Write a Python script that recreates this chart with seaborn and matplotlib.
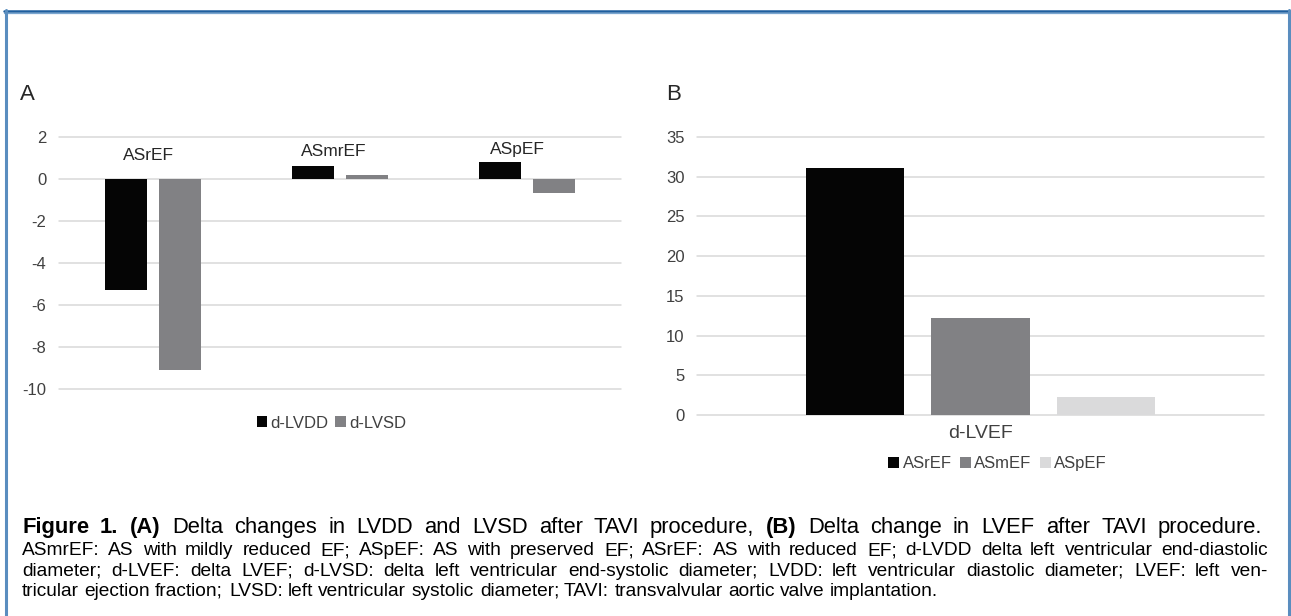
import numpy as np
import pandas as pd
import matplotlib
matplotlib.use("Agg")
import matplotlib.pyplot as plt
import seaborn as sns
from matplotlib import font_manager as fm
from matplotlib.lines import Line2D

# ---------------- data ----------------
groups_a = ["ASrEF", "ASmrEF", "ASpEF"]
series_a = ["d-LVDD", "d-LVSD"]
d_lvdd = [-5.3, 0.62, 0.83]
d_lvsd = [-9.1, 0.2, -0.67]
yticks_a = [2, 0, -2, -4, -6, -8, -10]

metric_b = ["d-LVEF"]
groups_b = ["ASrEF", "ASmEF", "ASpEF"]
d_lvef = [31.1, 12.2, 2.3]
yticks_b = [0, 5, 10, 15, 20, 25, 30, 35]

caption_title = [("Figure 1. (A)", "bold"),
                 ("Delta changes in LVDD and LVSD after TAVI procedure,", "normal"),
                 ("(B)", "bold"),
                 ("Delta change in LVEF after TAVI procedure.", "normal")]
caption_lines = [
    "ASmrEF: AS with mildly reduced EF; ASpEF: AS with preserved EF;  ASrEF: AS with reduced EF; d-LVDD delta left ventricular end-diastolic",
    "diameter; d-LVEF: delta LVEF; d-LVSD: delta left ventricular end-systolic diameter; LVDD: left ventricular diastolic diameter; LVEF: left ven-",
    "tricular ejection fraction; LVSD: left ventricular systolic diameter; TAVI: transvalvular aortic valve implantation.",
]

BLACK = "#050505"
GREY = "#808184"
LIGHT = "#dadadb"
GRID = "#d9d9d9"
TICK = "#404040"

sns.set_theme(style="white")
names = {f.name for f in fm.fontManager.ttflist}
BASE = "Liberation Sans" if "Liberation Sans" in names else "DejaVu Sans"
plt.rcParams["font.family"] = [BASE, "DejaVu Sans"]

W, H = 1291, 616
fig = plt.figure(figsize=(W / 100, H / 100), dpi=100)
fig.patch.set_facecolor("white")


def px_axes(x0, x1, ytop, ybot):
    return fig.add_axes([x0 / W, 1 - ybot / H, (x1 - x0) / W, (ybot - ytop) / H])


axA = px_axes(59, 621, 137, 389)
axB = px_axes(697, 1264, 137, 415)

# ---------------- panel A ----------------
df_a = pd.DataFrame({
    "group": groups_a * 2,
    "series": [s for s in series_a for _ in groups_a],
    "value": d_lvdd + d_lvsd,
})
sns.barplot(data=df_a, x="group", y="value", hue="series", order=groups_a,
            hue_order=series_a, palette=[BLACK, GREY], width=0.576, gap=0.222,
            linewidth=0, errorbar=None, ax=axA)
axA.set_ylim(-10, 2)
axA.set_yticks(yticks_a)
axA.set_yticklabels([str(v) for v in yticks_a])
axA.tick_params(axis="x", labelbottom=False, length=0)
label_heights = [1.1, 1.33, 1.42]
label_shift = [-0.025, -0.033, -0.052]
for i, g in enumerate(groups_a):
    axA.text(i + label_shift[i], label_heights[i], g, ha="center", va="center",
             fontsize=12.5, color="#262626")
sns.move_legend(axA, "center", bbox_to_anchor=(0.485, -0.135), ncol=2, title=None,
                frameon=False, fontsize=12, handlelength=0.65, handleheight=0.65,
                handletextpad=0.2, columnspacing=0.4, labelcolor=TICK)

# ---------------- panel B ----------------
df_b = pd.DataFrame({
    "metric": metric_b * len(groups_b),
    "group": groups_b,
    "value": d_lvef,
})
sns.barplot(data=df_b, x="metric", y="value", hue="group", hue_order=groups_b,
            palette=[BLACK, GREY, LIGHT], width=0.664, gap=0.217,
            linewidth=0, errorbar=None, ax=axB)
axB.set_ylim(0, 35)
axB.set_yticks(yticks_b)
axB.tick_params(axis="x", labelsize=14, length=0, pad=7, labelcolor=TICK)
sns.move_legend(axB, "center", bbox_to_anchor=(0.53, -0.175), ncol=3, title=None,
                frameon=False, fontsize=12, handlelength=0.65, handleheight=0.65,
                handletextpad=0.2, columnspacing=0.5, labelcolor=TICK)

for ax in (axA, axB):
    ax.set_xlabel("")
    ax.set_ylabel("")
    ax.grid(axis="y", color=GRID, linewidth=1.1)
    ax.set_axisbelow(True)
    for sp in ax.spines.values():
        sp.set_visible(False)
    ax.tick_params(axis="y", length=0, pad=9, labelsize=12, labelcolor=TICK)
    for gl in ax.get_ygridlines():
        gl.set_clip_on(False)

fig.text(20 / W, 1 - 94 / H, "A", fontsize=16, va="center", ha="left", color="#262626")
fig.text(666 / W, 1 - 94 / H, "B", fontsize=16, va="center", ha="left", color="#262626")

# ---------------- frame ----------------
fig.add_artist(Line2D([4 / W, 1289 / W], [1 - 10.5 / H, 1 - 10.5 / H], transform=fig.transFigure,
                      color="#1f5f9f", linewidth=1.8))
fig.add_artist(Line2D([4 / W, 1289 / W], [1 - 12.5 / H, 1 - 12.5 / H], transform=fig.transFigure,
                      color="#7aa6d0", linewidth=0.9))
for xx in (5.5, 1288.5):
    fig.add_artist(Line2D([xx / W, xx / W], [1 - 10 / H, 0], transform=fig.transFigure,
                          color="#5a8dbf", linewidth=2.2))

# ---------------- caption ----------------
fig.canvas.draw()
R = fig.canvas.get_renderer()


def tw(s, size, weight="normal"):
    t = fig.text(0, 0, s, fontsize=size, fontweight=weight, family=BASE)
    w = t.get_window_extent(renderer=R).width
    t.remove()
    return w


def tokens_of(runs):
    out = []
    for s, wgt in runs:
        for word in s.split():
            out.append((word, wgt))
    return out


def place(tokens, x0, y, size, justify=None):
    ws = [tw(w, size, g) for w, g in tokens]
    sp = tw("a a", size) - tw("aa", size)
    if justify is not None and len(tokens) > 1:
        sp = (justify - sum(ws)) / (len(tokens) - 1)
    x = x0
    for (w, g), ww in zip(tokens, ws):
        fig.text(round(x) / W, 1 - y / H, w, fontsize=size, fontweight=g, family=BASE,
                 va="baseline", ha="left", color="black")
        x += ww + sp


place(tokens_of(caption_title), 22, 533, 15.8, justify=1240)

body_size = 13.8
ys = [555, 576, 596]
for k, ln in enumerate(caption_lines):
    place(tokens_of([(ln, "normal")]), 22, ys[k], body_size,
          justify=1246 if k < 2 else None)

fig.savefig("out.png", dpi=100, facecolor="white")
